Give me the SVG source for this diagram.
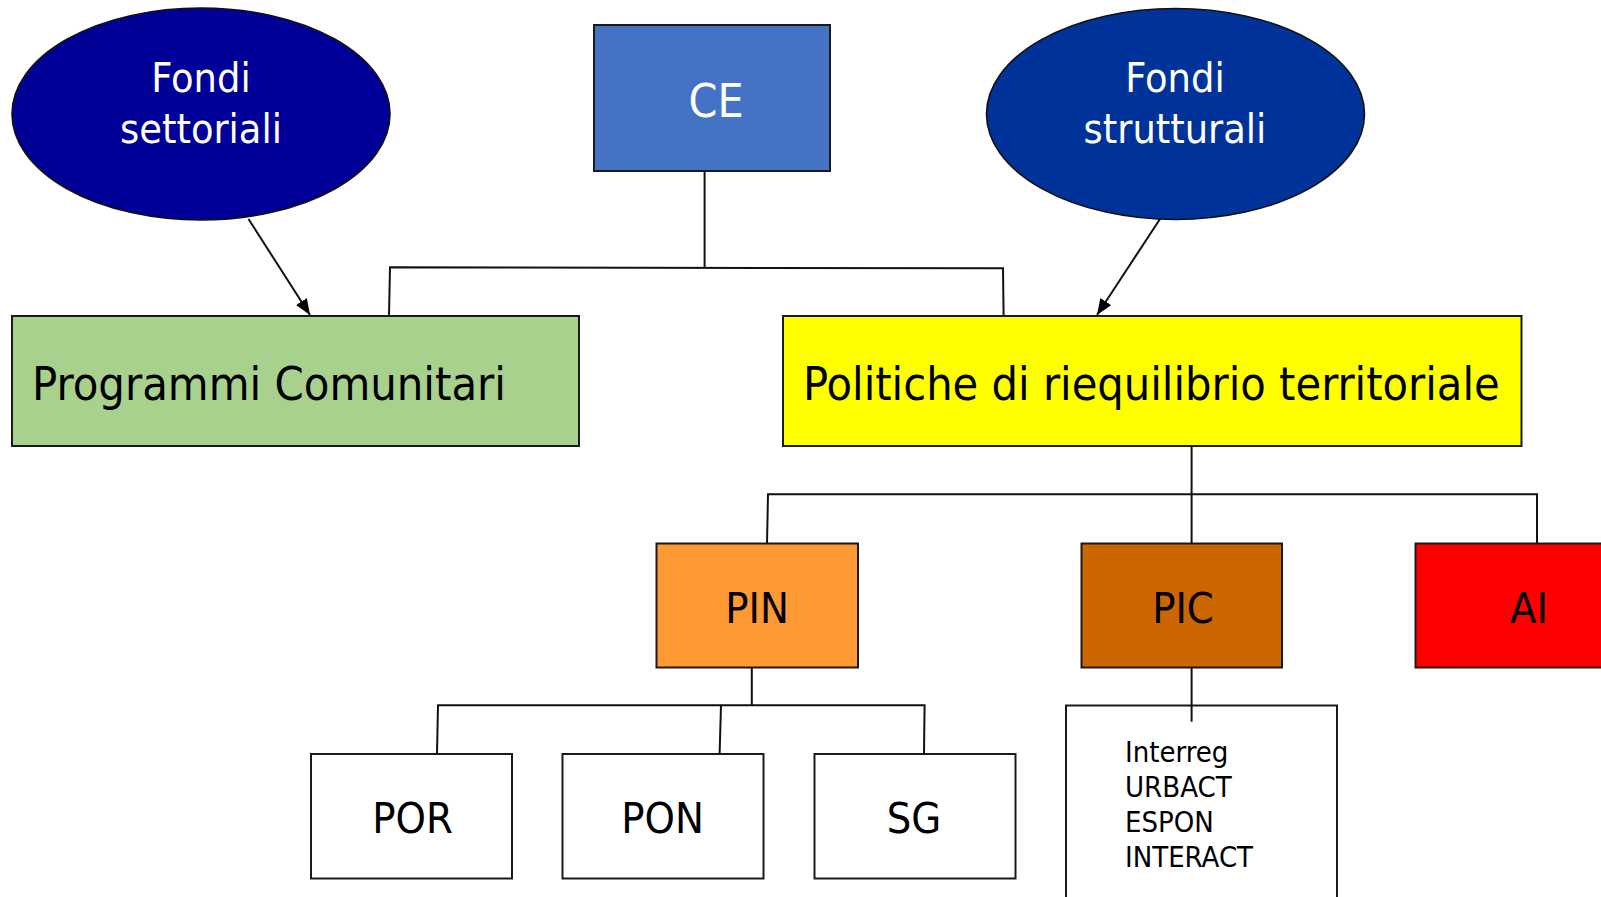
<svg xmlns="http://www.w3.org/2000/svg" width="1601" height="897" viewBox="0 0 1601 897">
<style>
.box{stroke:#1a1a1a;stroke-width:2}
.ell{stroke:#111;stroke-width:1.6}
.t{font-family:"DejaVu Sans Condensed","DejaVu Sans","Liberation Sans",sans-serif;font-stretch:condensed}
.w{fill:#fff}
.k{fill:#000}
.c{text-anchor:middle}
.ln{fill:none;stroke:#111;stroke-width:2}
</style>
<defs>
<marker id="ah" markerUnits="userSpaceOnUse" markerWidth="17" markerHeight="13" refX="16" refY="6.5" orient="auto">
<path d="M0,0 L16,6.5 L0,13 z" fill="#000"/>
</marker>
</defs>
<rect width="1601" height="897" fill="#fff"/>
<g id="fondi-settoriali">
<ellipse class="ell" cx="201" cy="114" rx="189" ry="106" fill="#000099"/>
<text class="t w c" x="201" y="92" font-size="41">Fondi</text>
<text class="t w c" x="201" y="143" font-size="41">settoriali</text>
</g>
<g id="ce">
<rect class="box" x="594" y="25" width="236" height="146" fill="#4472C4"/>
<text class="t w c" x="716" y="117" font-size="46">CE</text>
</g>
<g id="fondi-strutturali">
<ellipse class="ell" cx="1175.5" cy="114" rx="189" ry="105.5" fill="#003399"/>
<text class="t w c" x="1175" y="92" font-size="41">Fondi</text>
<text class="t w c" x="1175" y="143" font-size="41">strutturali</text>
</g>
<g id="programmi">
<rect class="box" x="12" y="316" width="567" height="130" fill="#A9D18E"/>
<text class="t k" x="32" y="400" font-size="46.6">Programmi Comunitari</text>
</g>
<g id="politiche">
<rect class="box" x="783" y="316" width="738.5" height="130" fill="#FFFF00"/>
<text class="t k" x="803" y="400" font-size="46.4">Politiche di riequilibrio territoriale</text>
</g>
<g id="pin">
<rect class="box" x="656.5" y="543.5" width="201.5" height="124" fill="#FF9933"/>
<text class="t k c" x="757" y="622.5" font-size="43">PIN</text>
</g>
<g id="pic">
<rect class="box" x="1081.5" y="543.5" width="200.5" height="124" fill="#CC6600"/>
<text class="t k c" x="1183" y="622.5" font-size="43">PIC</text>
</g>
<g id="ai">
<rect class="box" x="1415.5" y="543.5" width="220" height="124" fill="#FF0000"/>
<text class="t k c" x="1529" y="622.5" font-size="43">AI</text>
</g>
<g id="por">
<rect class="box" x="311" y="754" width="201" height="124.5" fill="#fff"/>
<text class="t k c" x="412.5" y="833" font-size="43">POR</text>
</g>
<g id="pon">
<rect class="box" x="562.5" y="754" width="201" height="124.5" fill="#fff"/>
<text class="t k c" x="662.5" y="833" font-size="43">PON</text>
</g>
<g id="sg">
<rect class="box" x="814.5" y="754" width="201" height="124.5" fill="#fff"/>
<text class="t k c" x="914" y="833" font-size="43">SG</text>
</g>
<g id="pic-list">
<rect class="box" x="1066" y="705.5" width="271" height="220" fill="#fff"/>
<text class="t k" x="1125" y="761.5" font-size="29">Interreg</text>
<text class="t k" x="1125" y="796.5" font-size="29">URBACT</text>
<text class="t k" x="1125" y="831.5" font-size="29">ESPON</text>
<text class="t k" x="1125" y="866.5" font-size="29">INTERACT</text>
</g>
<g id="connectors">
<path class="ln" d="M704.6,171 V267.5"/>
<polyline class="ln" points="389,316 390,267.3 1003,268.3 1003.6,316"/>
<line class="ln" x1="248.5" y1="219" x2="310" y2="315" marker-end="url(#ah)"/>
<line class="ln" x1="1160" y1="219" x2="1097" y2="315" marker-end="url(#ah)"/>
<path class="ln" d="M1191.6,446 V543.5"/>
<polyline class="ln" points="767,543.5 768,494.3 1537,494.3 1537,543.5"/>
<path class="ln" d="M751.8,667.5 V705.3"/>
<polyline class="ln" points="437,754 438,705.3 924.6,705.3 924,754"/>
<line class="ln" x1="721" y1="705.3" x2="719.6" y2="754"/>
<path class="ln" d="M1191.6,667.5 V721.7"/>
</g>
</svg>
